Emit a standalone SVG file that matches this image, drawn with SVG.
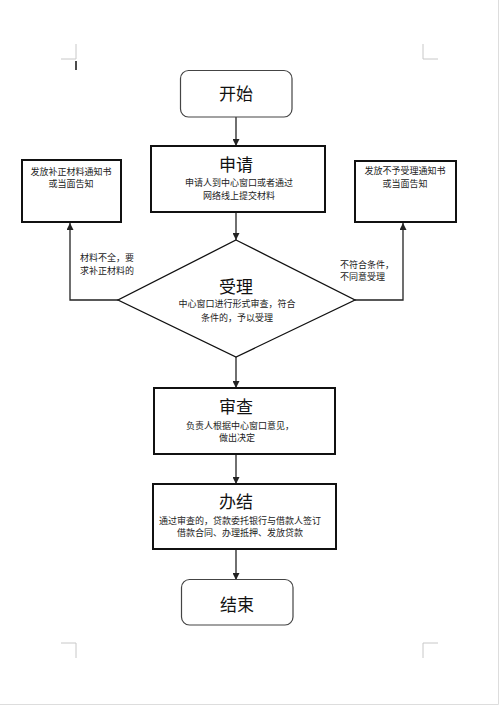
<svg xmlns="http://www.w3.org/2000/svg" width="500" height="705" viewBox="0 0 500 705">
<style>
text{font-family:"Noto Sans CJK SC","Noto Sans",sans-serif;fill:#111;text-anchor:middle}
.t{font-size:17px}
.s{font-size:9px;fill:#222}
.l{font-size:9px;fill:#222;text-anchor:start}
.box{fill:#fff;stroke:#111;stroke-width:2}
.rnd{fill:#fff;stroke:#444;stroke-width:1.2}
.c{fill:none;stroke:#222;stroke-width:1.3}
.crop{fill:none;stroke:#c8c8c8;stroke-width:1}
</style>
<defs>
<marker id="ah" viewBox="0 0 10 10" refX="10" refY="5" markerWidth="7" markerHeight="7" markerUnits="userSpaceOnUse" orient="auto">
<path d="M0,0 L10,5 L0,10 z" fill="#222"/>
</marker>
</defs>
<rect width="500" height="705" fill="#fff"/>
<path d="M498.5,0 V704.5 H0" fill="none" stroke="#ddd" stroke-width="1"/>
<g id="page-marks">
<path class="crop" d="M76,44 V59 H61"/>
<path class="crop" d="M423,44 V59 H438"/>
<path class="crop" d="M61,643 H76 V658"/>
<path class="crop" d="M438,643 H423 V658"/>
<line x1="76" y1="61" x2="76" y2="70" stroke="#111" stroke-width="1.5"/>
</g>
<g id="connectors">
<line class="c" x1="236" y1="117" x2="236" y2="146" marker-end="url(#ah)"/>
<line class="c" x1="236" y1="213" x2="236" y2="240" marker-end="url(#ah)"/>
<line class="c" x1="236" y1="357" x2="236" y2="388" marker-end="url(#ah)"/>
<line class="c" x1="236" y1="454" x2="236" y2="484" marker-end="url(#ah)"/>
<line class="c" x1="236" y1="549" x2="236" y2="580" marker-end="url(#ah)"/>
<polyline class="c" points="118,300 70,300 70,223" marker-end="url(#ah)"/>
<polyline class="c" points="355,300 403,300 403,223" marker-end="url(#ah)"/>
<text class="l" x="80" y="261">材料不全，要</text>
<text class="l" x="80" y="274">求补正材料的</text>
<text class="l" x="340" y="268">不符合条件，</text>
<text class="l" x="340" y="280">不同意受理</text>
</g>
<g id="start">
<rect class="rnd" x="180.5" y="70.5" width="111.5" height="46.5" rx="8"/>
<text class="t" x="236" y="100">开始</text>
</g>
<g id="apply">
<rect class="box" x="151" y="146" width="174" height="66"/>
<text class="t" x="236" y="171">申请</text>
<text class="s" x="239" y="186">申请人到中心窗口或者通过</text>
<text class="s" x="239" y="199">网络线上提交材料</text>
</g>
<g id="accept">
<polygon points="236,240 355,300 236,357 118,300" fill="#fff" stroke="#111" stroke-width="1.3"/>
<text class="t" x="236" y="293">受理</text>
<text class="s" x="237" y="307" font-size="8.6">中心窗口进行形式审查，符合</text>
<text class="s" x="237" y="321" font-size="8.6">条件的，予以受理</text>
</g>
<g id="supplement">
<rect class="box" x="22" y="160" width="99" height="62"/>
<text class="s" x="71" y="175">发放补正材料通知书</text>
<text class="s" x="71" y="187">或当面告知</text>
</g>
<g id="reject">
<rect class="box" x="355" y="161" width="101" height="61"/>
<text class="s" x="405" y="174">发放不予受理通知书</text>
<text class="s" x="405" y="187">或当面告知</text>
</g>
<g id="review">
<rect class="box" x="154" y="388" width="181" height="66"/>
<text class="t" x="236" y="413">审查</text>
<text class="s" x="240" y="429">负责人根据中心窗口意见，</text>
<text class="s" x="237" y="441">做出决定</text>
</g>
<g id="finish">
<rect class="box" x="153" y="484" width="183" height="65"/>
<text class="t" x="236" y="508">办结</text>
<text class="s" x="240" y="524">通过审查的，贷款委托银行与借款人签订</text>
<text class="s" x="240" y="536">借款合同、办理抵押、发放贷款</text>
</g>
<g id="end">
<rect class="rnd" x="181.5" y="579.5" width="111.5" height="45.5" rx="8"/>
<text class="t" x="237" y="611">结束</text>
</g>
</svg>
